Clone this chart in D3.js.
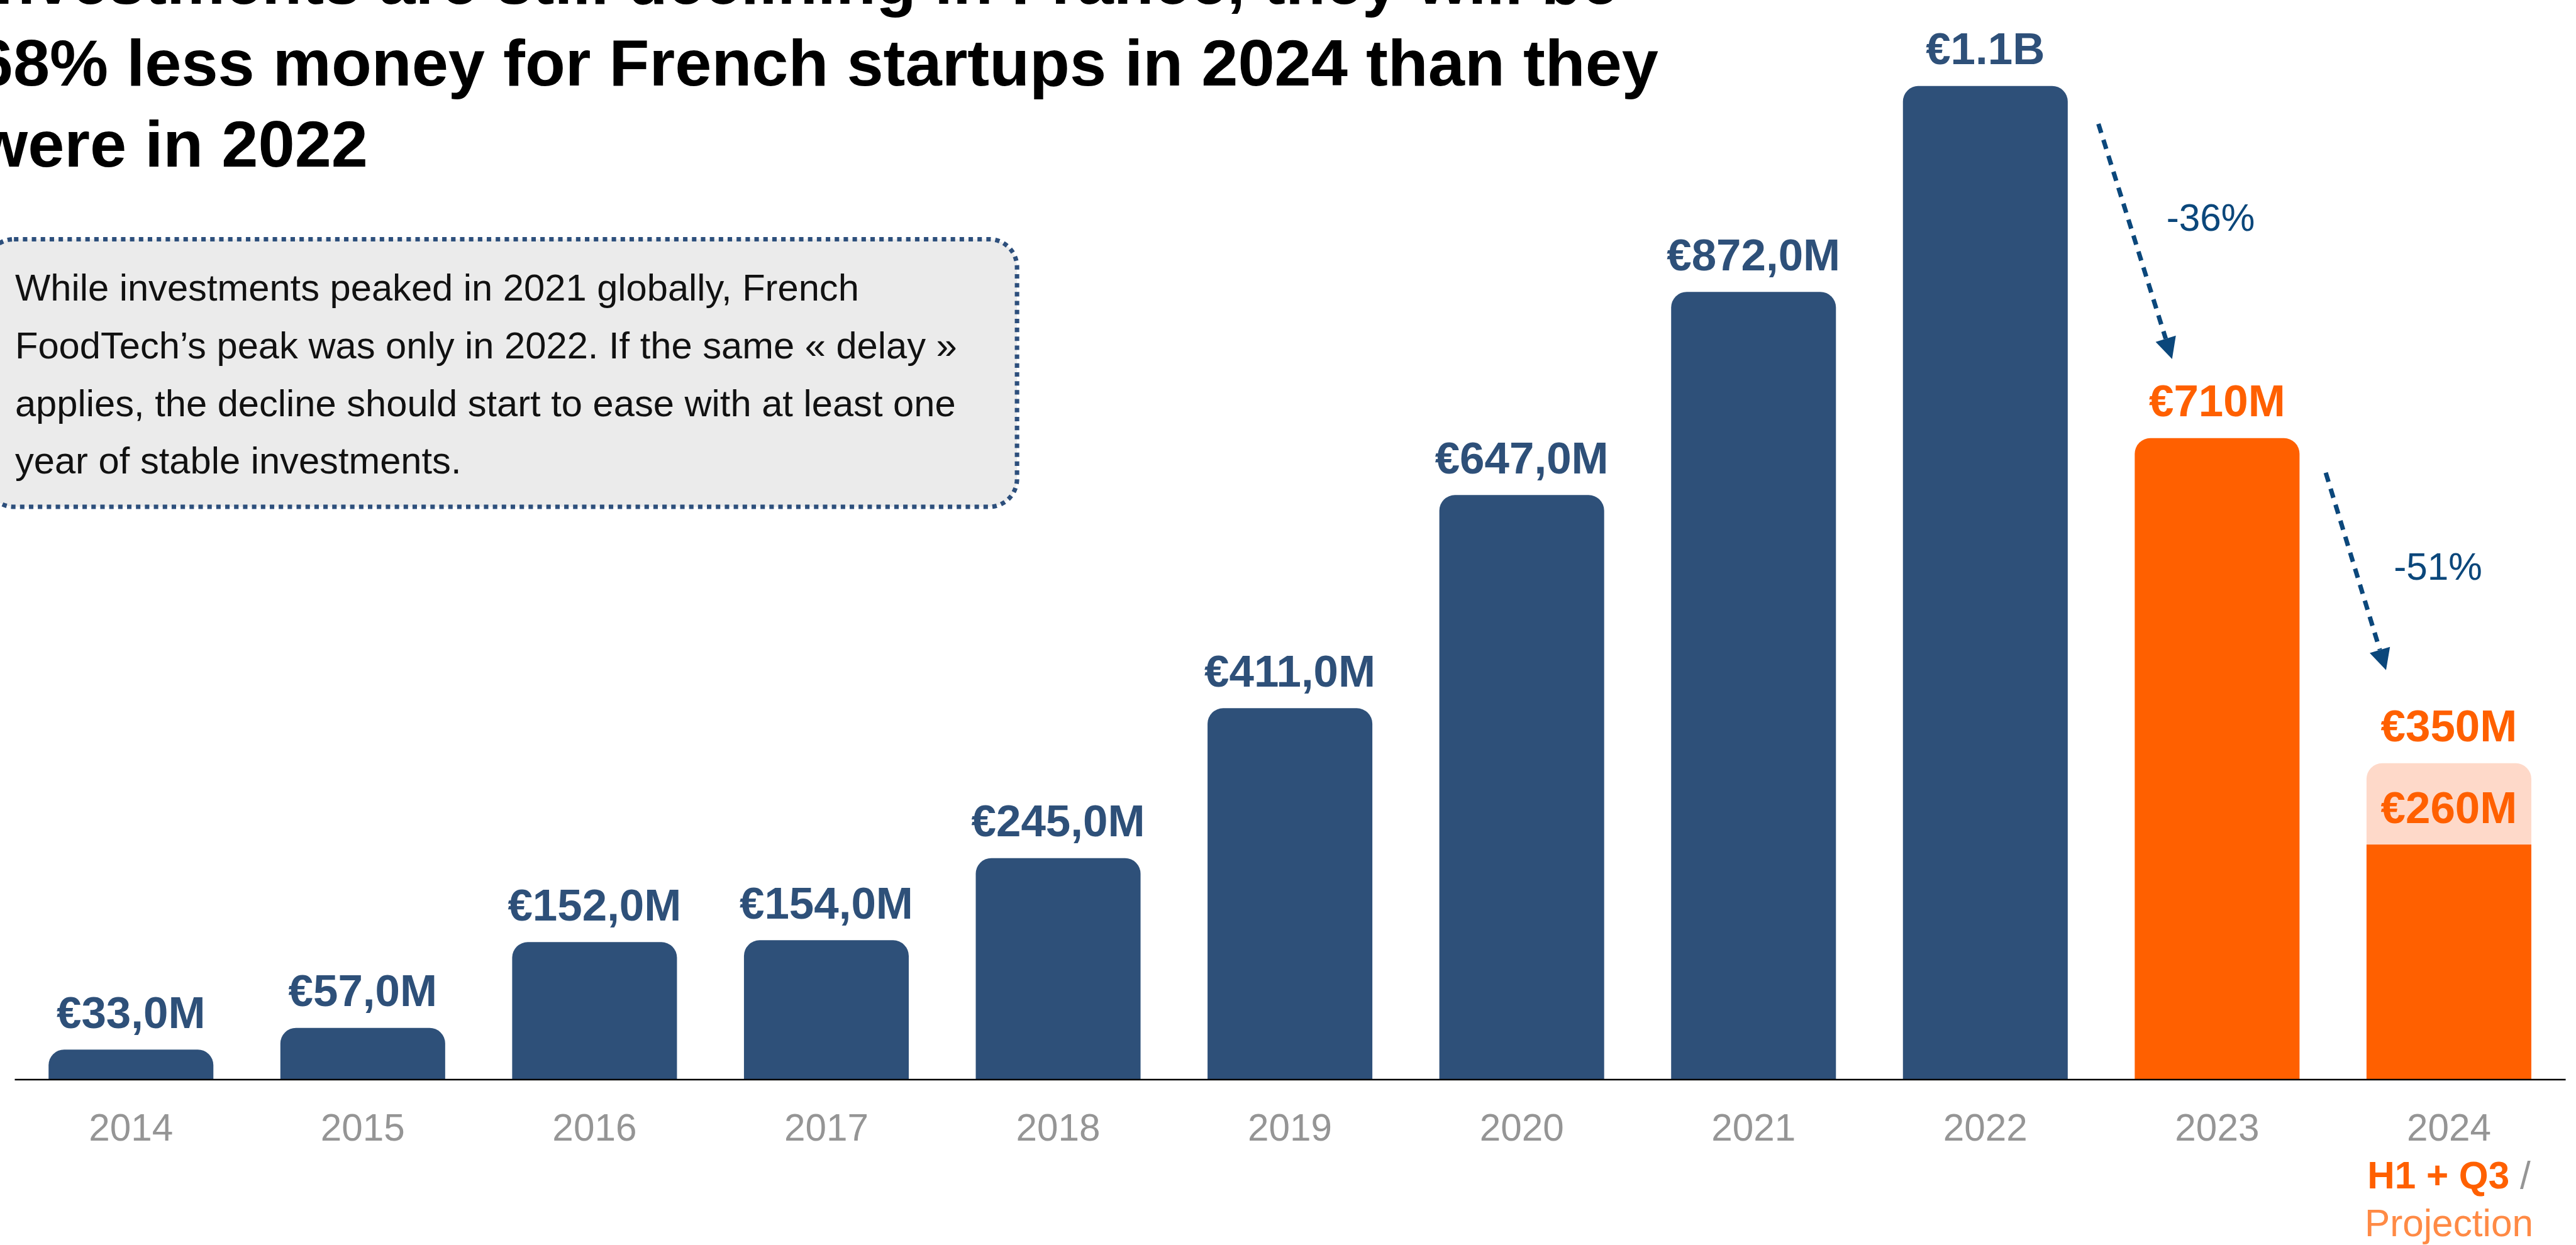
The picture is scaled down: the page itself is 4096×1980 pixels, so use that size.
<!DOCTYPE html>
<html>
<head>
<meta charset="utf-8">
<script src="https://cdn.jsdelivr.net/npm/d3@7"></script>
<style>
  html, body { margin: 0; padding: 0; background: #ffffff; overflow: hidden; }
  svg { display: block; }
</style>
</head>
<body>
<svg id="chart"></svg>
<script>
// ---- Data ---------------------------------------------------------------
const years = ["2014", "2015", "2016", "2017", "2018", "2019", "2020", "2021", "2022", "2023", "2024"];
// Yearly funding raised by French FoodTech startups, in € millions
const totals = [33, 57, 152, 154, 245, 411, 647, 872, 1100, 710, 350];
const totalLabels = ["€33,0M", "€57,0M", "€152,0M", "€154,0M", "€245,0M", "€411,0M",
                     "€647,0M", "€872,0M", "€1.1B", "€710M", "€350M"];
// 2024: amount already raised (H1 + Q3) inside the full-year projection
const partialYear = "2024";
const partialValue = 260;
const partialLabel = "€260M";
// Years drawn in the highlight colour
const highlightYears = ["2023", "2024"];
// Year-over-year drops
const drops = [
  { from: "2022", to: "2023", text: "-36%" },
  { from: "2023", to: "2024", text: "-51%" }
];
const partialTickLines = ["H1 + Q3", " /", "Projection"];

const titleLines = [
  "Investments are still declining in France, they will be",
  "68% less money for French startups in 2024 than they",
  "were in 2022"
];
const noteLines = [
  "While investments peaked in 2021 globally, French",
  "FoodTech’s peak was only in 2022. If the same « delay »",
  "applies, the decline should start to ease with at least one",
  "year of stable investments."
];

// ---- Layout & style -----------------------------------------------------
const W = 4620, H = 2233;
const FONT = "'Helvetica Neue', Helvetica, 'Liberation Sans', Arial, sans-serif";
const NAVY = "#2e5079";
const ORANGE = "#ff6000";
const LIGHT_ORANGE = "#fed9c9";
const PROJ_ORANGE = "#ff8a45";
const ARROW_BLUE = "#0b477b";
const GREY = "#959595";

const svg = d3.select("#chart")
  .attr("width", 4096)
  .attr("height", 1980)
  .attr("viewBox", `0 0 ${W} ${H}`);

const baseY = 1936;
const x = d3.scaleBand()
  .domain(years)
  .range([26, 4601])
  .paddingInner(0.289)
  .paddingOuter(0.147);
const y = d3.scaleLinear()
  .domain([0, 1200])
  .range([baseY, baseY - 1.62 * 1200]);

const bw = x.bandwidth();
const valueOf = yr => totals[years.indexOf(yr)];
const colorOf = yr => highlightYears.includes(yr) ? ORANGE : NAVY;

// bar with rounded top corners and a square base
function topRounded(x0, y0, w, h, r) {
  r = Math.max(0, Math.min(r, h, w / 2));
  return `M${x0},${y0 + h}V${y0 + r}A${r},${r} 0 0 1 ${x0 + r},${y0}` +
         `H${x0 + w - r}A${r},${r} 0 0 1 ${x0 + w},${y0 + r}V${y0 + h}Z`;
}

// ---- Title --------------------------------------------------------------
svg.append("g")
  .selectAll("text")
  .data(titleLines)
  .join("text")
  .attr("x", -42)
  .attr("y", (d, i) => 7 + i * 146)
  .attr("font-family", FONT)
  .attr("font-weight", "bold")
  .attr("font-size", 118)
  .attr("fill", "#000")
  .text(d => d);

// ---- Note box -----------------------------------------------------------
const note = svg.append("g");
note.append("rect")
  .attr("x", -25)
  .attr("y", 429)
  .attr("width", 1849)
  .attr("height", 480)
  .attr("rx", 50)
  .attr("fill", "#ebebeb")
  .attr("stroke", "#2d4f7c")
  .attr("stroke-width", 8)
  .attr("stroke-dasharray", "8 8");
note.selectAll("text")
  .data(noteLines)
  .join("text")
  .attr("x", 27)
  .attr("y", (d, i) => 539.5 + i * 103.3)
  .attr("font-family", FONT)
  .attr("font-size", 67.3)
  .attr("fill", "#111")
  .text(d => d);

// ---- Bars ---------------------------------------------------------------
const bars = svg.append("g");
const barData = years.map((yr, i) => ({ year: yr, value: totals[i], label: totalLabels[i] }));

bars.selectAll("path.total")
  .data(barData)
  .join("path")
  .attr("class", "total")
  .attr("d", d => topRounded(x(d.year), y(d.value), bw, baseY - y(d.value), 28))
  .attr("fill", d => d.year === partialYear ? LIGHT_ORANGE : colorOf(d.year));

// realised part of the partial year
bars.append("rect")
  .attr("x", x(partialYear))
  .attr("y", y(partialValue))
  .attr("width", bw)
  .attr("height", baseY - y(partialValue))
  .attr("fill", ORANGE);

// value labels
const labelGap = 39;
bars.selectAll("text.value")
  .data(barData)
  .join("text")
  .attr("class", "value")
  .attr("x", d => x(d.year) + bw / 2)
  .attr("y", d => y(d.value) - labelGap)
  .attr("text-anchor", "middle")
  .attr("font-family", FONT)
  .attr("font-weight", "bold")
  .attr("font-size", 80)
  .attr("fill", d => colorOf(d.year))
  .text(d => d.label);

bars.append("text")
  .attr("x", x(partialYear) + bw / 2)
  .attr("y", y(partialValue) - labelGap)
  .attr("text-anchor", "middle")
  .attr("font-family", FONT)
  .attr("font-weight", "bold")
  .attr("font-size", 80)
  .attr("fill", ORANGE)
  .text(partialLabel);

// ---- X axis -------------------------------------------------------------
const gx = svg.append("g")
  .attr("transform", `translate(0,${baseY})`)
  .call(d3.axisBottom(x).tickSize(0).tickSizeOuter(0).tickPadding(62));
gx.select(".domain")
  .attr("stroke", "#000")
  .attr("stroke-width", 3);
gx.selectAll(".tick text")
  .attr("font-family", FONT)
  .attr("font-size", 68)
  .attr("fill", GREY);

gx.selectAll(".tick")
  .filter(d => d === partialYear)
  .select("text")
  .each(function (d) {
    const t = d3.select(this).text(null);
    t.append("tspan").attr("x", 0).text(d);
    t.append("tspan").attr("x", 0).attr("dy", 85.5)
      .attr("font-weight", "bold").attr("fill", ORANGE).text(partialTickLines[0]);
    t.append("tspan").attr("fill", GREY).text(partialTickLines[1]);
    t.append("tspan").attr("x", 0).attr("dy", 85.5)
      .attr("fill", PROJ_ORANGE).text(partialTickLines[2]);
  });

// ---- Drop arrows --------------------------------------------------------
const arrowPlacement = [
  { sx: 55, sy: 68, ex: 67, ey: 142 },
  { sx: 47, sy: 62, ex: 35, ey: 167 }
];
const arrows = svg.append("g");
drops.forEach((dr, i) => {
  const p = arrowPlacement[i];
  const x0 = x(dr.from) + bw + p.sx;
  const y0 = y(valueOf(dr.from)) + p.sy;
  const x1 = x(dr.to) + p.ex;
  const y1 = y(valueOf(dr.to)) - p.ey;
  const len = Math.hypot(x1 - x0, y1 - y0);
  const ux = (x1 - x0) / len, uy = (y1 - y0) / len;
  const headLen = 38, headHalf = 19;
  const bx = x1 - ux * headLen, by = y1 - uy * headLen;

  arrows.append("line")
    .attr("x1", x0).attr("y1", y0)
    .attr("x2", bx).attr("y2", by)
    .attr("stroke", ARROW_BLUE)
    .attr("stroke-width", 8)
    .attr("stroke-dasharray", "17 13");
  arrows.append("path")
    .attr("d", `M${x1},${y1}L${bx - uy * headHalf},${by + ux * headHalf}L${bx + uy * headHalf},${by - ux * headHalf}Z`)
    .attr("fill", ARROW_BLUE);
  arrows.append("text")
    .attr("x", x0 + 122)
    .attr("y", y0 + 192)
    .attr("font-family", FONT)
    .attr("font-size", 68)
    .attr("fill", ARROW_BLUE)
    .text(dr.text);
});
</script>
</body>
</html>
